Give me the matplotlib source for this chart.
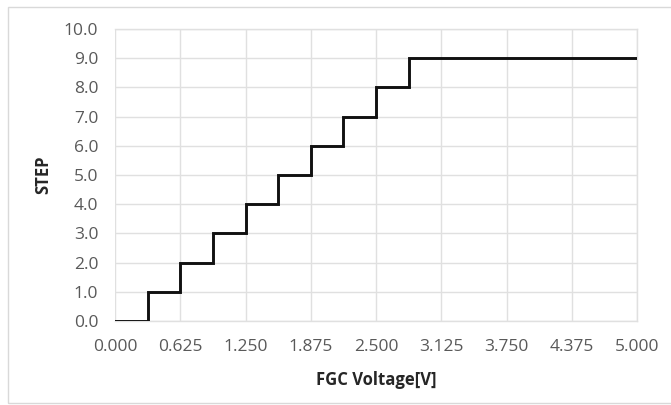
import matplotlib
matplotlib.use("Agg")
import matplotlib.pyplot as plt
from matplotlib.patches import Rectangle

# Data
step_voltages = [0.0, 0.3125, 0.625, 0.9375, 1.25, 1.5625, 1.875, 2.1875, 2.5, 2.8125, 5.0]
step_values = [0, 1, 2, 3, 4, 5, 6, 7, 8, 9, 9]
x_ticks = [0.0, 0.625, 1.25, 1.875, 2.5, 3.125, 3.75, 4.375, 5.0]
y_ticks = [0, 1, 2, 3, 4, 5, 6, 7, 8, 9, 10]

plt.rcParams['font.family'] = ['Open Sans', 'DejaVu Sans']

W, H = 671, 405
fig = plt.figure(figsize=(W / 100, H / 100), dpi=100)
fig.patch.set_facecolor('white')

# outer chart border
fig.add_artist(Rectangle((8 / W, 0.005), 1.2, (H - 7 - 2) / H, transform=fig.transFigure,
                         fill=False, edgecolor='#d9d9d9', linewidth=1.0))

L, R, T, B = 115, 637, 29, 321
ax = fig.add_axes([L / W, 1 - B / H, (R - L) / W, (B - T) / H])
ax.step(step_voltages, step_values, where='post', color='#111111', linewidth=2.1,
        solid_joinstyle='miter', zorder=3)

ax.set_xlim(0, 5)
ax.set_ylim(0, 10)
ax.set_xticks(x_ticks)
ax.set_yticks(y_ticks)
ax.set_xticklabels([f"{v:.3f}" for v in x_ticks])
ax.set_yticklabels([f"{v:.1f}" for v in y_ticks])
ax.tick_params(length=0, labelsize=12.5, labelcolor='#595959')
ax.tick_params(axis='y', pad=12)
ax.tick_params(axis='x', pad=13)
ax.grid(True, color='#e0e0e0', linewidth=1.0)
ax.set_axisbelow(True)
for s in ax.spines.values():
    s.set_visible(False)
ax.axhline(0, color='#e0e0e0', linewidth=1.0, zorder=1, clip_on=False)
ax.axhline(10, color='#e0e0e0', linewidth=1.0, zorder=1, clip_on=False)
ax.axvline(5, color='#e0e0e0', linewidth=1.0, zorder=1, clip_on=False)

ax.set_xlabel('FGC Voltage[V]', fontsize=12, fontweight='bold', color='#262626', va='center')
ax.set_ylabel('STEP', fontsize=12, fontweight='bold', color='#262626', va='center')
ax.xaxis.set_label_coords(0.5, (B - 380) / (B - T))
ax.yaxis.set_label_coords((43 - L) / (R - L), 0.5)

fig.savefig('out.png', dpi=100, facecolor='white')
